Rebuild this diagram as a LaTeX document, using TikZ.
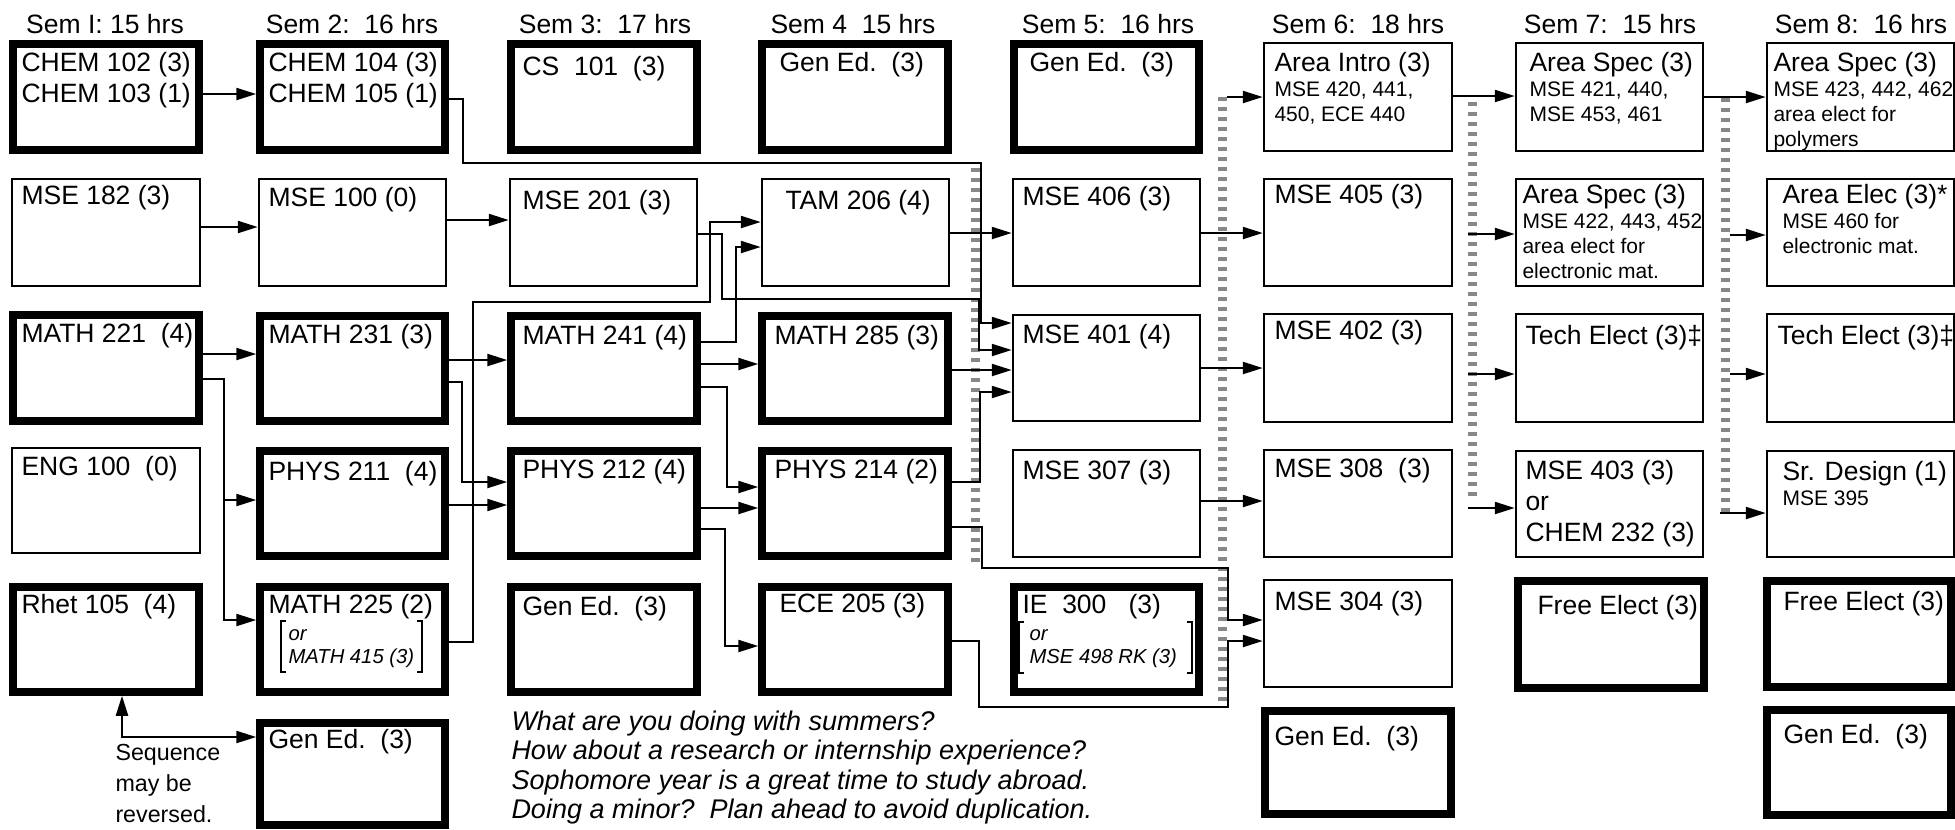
\documentclass[tikz,border=0pt]{standalone}
\usepackage{fontspec}
\setmainfont{Liberation Sans}
\usetikzlibrary{arrows.meta}
\newcommand\fmain{\fontsize{10.6pt}{12.4pt}\selectfont}
\newcommand\fsmall{\fontsize{8.4pt}{10pt}\selectfont}
\newcommand\fbr{\itshape\fontsize{8.1pt}{9.4pt}\selectfont}
\newcommand\fnote{\itshape\fontsize{10.8pt}{11.8pt}\selectfont}
\newcommand\fseq{\fontsize{9.3pt}{12.4pt}\selectfont}
\newcommand\lns[1]{\parbox[t]{110pt}{\raggedright #1}}
\newcommand\crsbox[9]{%
  \node[#2, minimum width={(#5-#3)*0.4pt}, minimum height={(#6-#4)*0.4pt}] (#1) at ({(#3+#5)/2},{(#4+#6)/2}) {};
  \node[txt] (#1-t) at (#7,#8) {\lns{#9}};}
\begin{document}
\begin{tikzpicture}[x=0.4pt,y=-0.4pt,
  boxthin/.style={draw, line width=1pt, inner sep=0pt},
  boxthick/.style={draw, line width=3pt, inner sep=0pt},
  txt/.style={anchor=base west, inner sep=0pt},
  hdr/.style={anchor=base, inner sep=0pt, font=\fmain},
  arr/.style={draw, line width=0.9pt, -{Triangle[length=8pt,width=4.8pt]}},
  arr2/.style={draw, line width=0.9pt, {Triangle[length=8pt,width=4.8pt]}-{Triangle[length=8pt,width=4.8pt]}},
  bar/.style={draw=black!47, line width=3.6pt, dash pattern=on 1.6pt off 2.4pt},
  brk/.style={draw, line width=0.6pt}]
\useasboundingbox (0,0) rectangle (1955,829);
% headers
\node[hdr] (h1) at (105,33) {Sem I: 15 hrs};
\node[hdr] (h2) at (352,33) {Sem 2:\ \ 16 hrs};
\node[hdr] (h3) at (605,33) {Sem 3:\ \ 17 hrs};
\node[hdr] (h4) at (853,33) {Sem 4\ \ 15 hrs};
\node[hdr] (h5) at (1108,33) {Sem 5:\ \ 16 hrs};
\node[hdr] (h6) at (1358,33) {Sem 6:\ \ 18 hrs};
\node[hdr] (h7) at (1610,33) {Sem 7:\ \ 15 hrs};
\node[hdr] (h8) at (1861,33) {Sem 8:\ \ 16 hrs};
% column 1
\crsbox{chemA}{boxthick}{13}{44}{199}{150}{21}{71}{\fmain CHEM 102 (3)\\CHEM 103 (1)}
\crsbox{mse182}{boxthin}{12}{179}{200}{286}{21}{204}{\fmain MSE 182 (3)}
\crsbox{math221}{boxthick}{13}{315}{199}{421}{21}{342}{\fmain MATH 221\ \ (4)}
\crsbox{eng100}{boxthin}{12}{448}{200}{553}{21}{475}{\fmain ENG 100\ \ (0)}
\crsbox{rhet105}{boxthick}{13}{587}{199}{692}{21}{613}{\fmain Rhet 105\ \ (4)}
% column 2
\crsbox{chemB}{boxthick}{260}{44}{445}{150}{268}{71}{\fmain CHEM 104 (3)\\CHEM 105 (1)}
\crsbox{mse100}{boxthin}{259}{179}{446}{286}{268}{206}{\fmain MSE 100 (0)}
\crsbox{math231}{boxthick}{260}{316}{445}{421}{268}{343}{\fmain MATH 231 (3)}
\crsbox{phys211}{boxthick}{260}{451}{445}{556}{268}{480}{\fmain PHYS 211\ \ (4)}
\crsbox{math225}{boxthick}{260}{587}{445}{692}{268}{613}{\fmain MATH 225 (2)}
\crsbox{gened2}{boxthick}{260}{723}{445}{825}{268}{748}{\fmain Gen Ed.\ \ (3)}
% column 3
\crsbox{cs101}{boxthick}{511}{44}{697}{150}{522}{75}{\fmain CS\ \ 101\ \ (3)}
\crsbox{mse201}{boxthin}{510}{179}{697}{286}{522}{209}{\fmain MSE 201 (3)}
\crsbox{math241}{boxthick}{511}{316}{697}{421}{522}{344}{\fmain MATH 241 (4)}
\crsbox{phys212}{boxthick}{511}{451}{697}{556}{522}{478}{\fmain PHYS 212 (4)}
\crsbox{gened3}{boxthick}{511}{587}{697}{692}{522}{615}{\fmain Gen Ed.\ \ (3)}
% column 4
\crsbox{gened4}{boxthick}{762}{44}{948}{150}{779}{71}{\fmain Gen Ed.\ \ (3)}
\crsbox{tam206}{boxthin}{762}{179}{949}{286}{785}{209}{\fmain TAM 206 (4)}
\crsbox{math285}{boxthick}{762}{316}{948}{421}{774}{344}{\fmain MATH 285 (3)}
\crsbox{phys214}{boxthick}{762}{451}{948}{556}{774}{478}{\fmain PHYS 214 (2)}
\crsbox{ece205}{boxthick}{762}{587}{948}{692}{779}{612}{\fmain ECE 205 (3)}
% column 5
\crsbox{gened5}{boxthick}{1014}{44}{1199}{150}{1029}{71}{\fmain Gen Ed.\ \ (3)}
\crsbox{mse406}{boxthin}{1013}{179}{1200}{286}{1022}{205}{\fmain MSE 406 (3)}
\crsbox{mse401}{boxthin}{1013}{315}{1200}{421}{1022}{343}{\fmain MSE 401 (4)}
\crsbox{mse307}{boxthin}{1013}{450}{1200}{557}{1022}{479}{\fmain MSE 307 (3)}
\crsbox{ie300}{boxthick}{1014}{587}{1199}{692}{1022}{613}{\fmain IE\ \ 300\ \ \ (3)}
% column 6
\crsbox{areaintro}{boxthin}{1264}{43}{1452}{151}{1274}{71}{\fmain Area Intro (3)\\\fsmall MSE 420, 441,\\450, ECE 440}
\crsbox{mse405}{boxthin}{1264}{179}{1452}{286}{1274}{203}{\fmain MSE 405 (3)}
\crsbox{mse402}{boxthin}{1264}{314}{1452}{422}{1274}{339}{\fmain MSE 402 (3)}
\crsbox{mse308}{boxthin}{1264}{450}{1452}{557}{1274}{477}{\fmain MSE 308\ \ (3)}
\crsbox{mse304}{boxthin}{1264}{580}{1452}{687}{1274}{610}{\fmain MSE 304 (3)}
\crsbox{gened6}{boxthick}{1265}{711}{1451}{814}{1274}{745}{\fmain Gen Ed.\ \ (3)}
% column 7
\crsbox{spec7a}{boxthin}{1516}{43}{1703}{151}{1529}{71}{\fmain Area Spec (3)\\\fsmall MSE 421, 440,\\MSE 453, 461}
\crsbox{spec7b}{boxthin}{1516}{179}{1703}{286}{1522}{203}{\fmain Area Spec (3)\\\fsmall MSE 422, 443, 452\\area elect for\\electronic mat.}
\crsbox{tech7}{boxthin}{1516}{314}{1703}{422}{1525}{344}{\fmain Tech Elect (3)‡}
\crsbox{mse403}{boxthin}{1516}{451}{1703}{557}{1525}{479}{\fmain MSE 403 (3)\\or\\CHEM 232 (3)}
\crsbox{free7}{boxthick}{1518}{581}{1704}{688}{1537}{614}{\fmain Free Elect (3)}
% column 8
\crsbox{spec8}{boxthin}{1767}{43}{1954}{151}{1773}{71}{\fmain Area Spec (3)\\\fsmall MSE 423, 442, 462\\area elect for\\polymers}
\crsbox{elec8}{boxthin}{1767}{179}{1954}{286}{1782}{203}{\fmain Area Elec (3)*\\\fsmall MSE 460 for\\electronic mat.}
\crsbox{tech8}{boxthin}{1767}{314}{1954}{422}{1777}{344}{\fmain Tech Elect (3)‡}
\crsbox{srdes}{boxthin}{1767}{451}{1954}{557}{1782}{480}{\fmain Sr. Design (1)\\\fsmall MSE 395}
\crsbox{free8}{boxthick}{1767}{581}{1951}{687}{1783}{610}{\fmain Free Elect (3)}
\crsbox{gened8}{boxthick}{1767}{710}{1951}{815}{1783}{743}{\fmain Gen Ed.\ \ (3)}
% bracketed alternatives
\node[txt] (math225-or) at (288,640) {\lns{\fbr or\\MATH 415 (3)}};
\draw[brk] (286,621) -- (281,621) -- (281,672) -- (286,672);
\draw[brk] (417,621) -- (422,621) -- (422,672) -- (417,672);
\node[txt] (ie300-or) at (1029,640) {\lns{\fbr or\\MSE 498 RK (3)}};
\draw[brk] (1024,622) -- (1019,622) -- (1019,673) -- (1024,673);
\draw[brk] (1187,622) -- (1192,622) -- (1192,673) -- (1187,673);
% notes
\node[txt] (seq) at (115,760) {\lns{\fseq Sequence\\may be\\reversed.}};
\node[txt] (summer) at (511,730) {\parbox[t]{300pt}{\raggedright\fnote What are you doing with summers?\\How about a research or internship experience?\\Sophomore year is a great time to study abroad.\\Doing a minor?\ \ Plan ahead to avoid duplication.}};
% gray separator bars
\coordinate (b45a) at (975,168); \coordinate (b45b) at (975,567);
\coordinate (b56a) at (1222,97); \coordinate (b56b) at (1222,707);
\coordinate (b67a) at (1472,102); \coordinate (b67b) at (1472,500);
\coordinate (b78a) at (1725,98); \coordinate (b78b) at (1725,513);
\draw[bar] (b45a) -- (b45b);
\draw[bar] (b56a) -- (b56b);
\draw[bar] (b67a) -- (b67b);
\draw[bar] (b78a) -- (b78b);
% connectors
\draw[arr] (chemA.east |- 0,94) -- (chemB.west |- 0,94);
\draw[arr] (chemB.east |- 0,99) -- (463,99) -- (463,163) -- (981,163) -- (981,323) -- (mse401.west |- 0,323);
\draw[arr] (mse182.east |- 0,227) -- (mse100.west |- 0,227);
\draw[arr] (mse100.east |- 0,220) -- (mse201.west |- 0,220);
\draw[arr] (mse201.east |- 0,234) -- (722,234) -- (722,299) -- (979,299) -- (979,350) -- (mse401.west |- 0,350);
\draw[arr] (math225.east |- 0,642) -- (473,642) -- (473,302) -- (710,302) -- (710,222) -- (tam206.west |- 0,222);
\draw[arr] (math241.east |- 0,342) -- (736,342) -- (736,247) -- (tam206.west |- 0,247);
\draw[arr] (tam206.east |- 0,233) -- (mse406.west |- 0,233);
\draw[arr] (math221.east |- 0,354) -- (math231.west |- 0,354);
\draw[arr] (math221.east |- 0,379) -- (224,379) -- (224,500) -- (phys211.west |- 0,500);
\draw[arr] (math221.east |- 0,379) -- (224,379) -- (224,620) -- (math225.west |- 0,620);
\draw[arr] (math231.east |- 0,360) -- (math241.west |- 0,360);
\draw[arr] (math231.east |- 0,382) -- (462,382) -- (462,482) -- (phys212.west |- 0,482);
\draw[arr] (phys211.east |- 0,505) -- (phys212.west |- 0,505);
\draw[arr] (math241.east |- 0,364) -- (math285.west |- 0,364);
\draw[arr] (math241.east |- 0,387) -- (727,387) -- (727,487) -- (phys214.west |- 0,487);
\draw[arr] (phys212.east |- 0,508) -- (phys214.west |- 0,508);
\draw[arr] (phys212.east |- 0,529) -- (725,529) -- (725,646) -- (ece205.west |- 0,646);
\draw[arr] (math285.east |- 0,370) -- (mse401.west |- 0,370);
\draw[arr] (phys214.east |- 0,482) -- (980,482) -- (980,392) -- (mse401.west |- 0,392);
\draw[arr] (phys214.east |- 0,527) -- (982,527) -- (982,568) -- (1228,568) -- (1228,620) -- (mse304.west |- 0,620);
\draw[arr] (ece205.east |- 0,641) -- (979,641) -- (979,707) -- (1228,707) -- (1228,641) -- (mse304.west |- 0,641);
\draw[arr2] (rhet105.south -| 122,0) -- (122,737) -- (gened2.west |- 0,737);
\draw[arr] (mse406.east |- 0,233) -- (mse405.west |- 0,233);
\draw[arr] (mse401.east |- 0,368) -- (mse402.west |- 0,368);
\draw[arr] (mse307.east |- 0,501) -- (mse308.west |- 0,501);
\draw[arr] (areaintro.east |- 0,96) -- (spec7a.west |- 0,96);
\draw[arr] (spec7a.east |- 0,97) -- (spec8.west |- 0,97);
% arrows leaving the separator bars
\coordinate (s-intro) at (1227,97);
\coordinate (s-spec7b) at (1468,234);
\coordinate (s-tech7) at (1468,374);
\coordinate (s-mse403) at (1468,508);
\coordinate (s-elec8) at (1730,235);
\coordinate (s-tech8) at (1730,374);
\coordinate (s-srdes) at (1720,513);
\draw[arr] (s-intro) -- (areaintro.west |- s-intro);
\draw[arr] (s-spec7b) -- (spec7b.west |- s-spec7b);
\draw[arr] (s-tech7) -- (tech7.west |- s-tech7);
\draw[arr] (s-mse403) -- (mse403.west |- s-mse403);
\draw[arr] (s-elec8) -- (elec8.west |- s-elec8);
\draw[arr] (s-tech8) -- (tech8.west |- s-tech8);
\draw[arr] (s-srdes) -- (srdes.west |- s-srdes);
\end{tikzpicture}
\end{document}
